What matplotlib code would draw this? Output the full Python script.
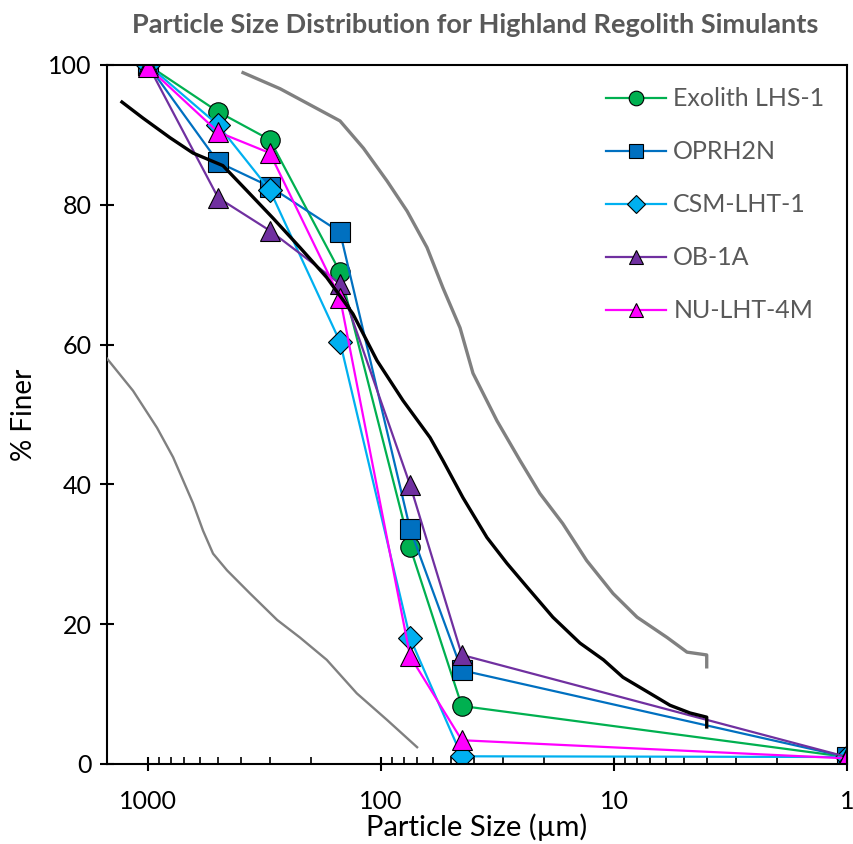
import matplotlib
matplotlib.use('Agg')
import matplotlib.pyplot as plt
from matplotlib.ticker import LogLocator, NullFormatter, FixedLocator

plt.rcParams['font.family'] = ['Lato', 'DejaVu Sans']

# sieve sizes (µm) and % finer for each simulant
sizes = [1000, 500, 300, 150, 75, 45, 1]
exolith = [100, 93.3, 89.3, 70.4, 31.0, 8.3, 1.0]
oprh2n = [100, 86.1, 82.6, 76.1, 33.6, 13.4, 1.0]
csm = [100, 91.4, 82.1, 60.4, 18.0, 1.1, 1.0]
ob1a = [100, 81.0, 76.3, 68.7, 39.9, 15.6, 1.0]
nu = [99.7, 90.4, 87.4, 66.7, 15.4, 3.4, 0.8]

names = ['Exolith LHS-1', 'OPRH2N', 'CSM-LHT-1', 'OB-1A', 'NU-LHT-4M']
colors = ['#00B050', '#0070C0', '#00B0F0', '#7030A0', '#FF00FF']
markers = ['o', 's', 'D', '^', '^']

# lunar soil envelope (upper / lower) and average curve
upper_x = [391, 271, 150, 119, 94.2, 77.3, 63.5, 54.2, 45.8, 40.3, 31.8, 25.3,
           20.8, 16.6, 13.1, 10.1, 7.96, 5.92, 4.86, 4.0, 4.0]
upper_y = [98.9, 96.6, 92.0, 88.1, 83.4, 79.1, 73.9, 68.1, 62.4, 55.9, 49.1, 43.4,
           38.7, 34.4, 29.1, 24.4, 21.0, 18.1, 16.0, 15.6, 13.9]
lower_x = [1500, 1160, 915, 781, 641, 581, 526, 458, 365, 279, 223, 171, 127, 94.2, 70.0]
lower_y = [58.0, 53.4, 48.1, 43.9, 37.3, 33.4, 30.1, 27.7, 24.4, 20.6, 18.1, 14.9,
           10.1, 6.3, 2.4]
avg_x = [1294, 1051, 805, 641, 477, 376, 291, 223, 171, 132, 104, 80.5, 61.6, 54.2,
         44.5, 35.1, 28.8, 23.6, 18.3, 14.0, 11.1, 9.15, 7.0, 5.75, 4.72, 4.0, 4.0]
avg_y = [94.7, 92.4, 89.6, 87.4, 85.6, 82.0, 78.1, 73.9, 69.6, 64.4, 57.7, 52.0, 46.7,
         43.4, 38.1, 32.4, 28.7, 25.3, 21.0, 17.3, 14.9, 12.4, 10.1, 8.4, 7.3, 6.7, 5.3]

fig = plt.figure(figsize=(8.54, 8.44), dpi=100)
ax = fig.add_axes([0.1253, 0.0948, 0.8665, 0.8282])

for vals, name, c, m in zip([exolith, oprh2n, csm, ob1a, nu], names, colors, markers):
    ax.plot(sizes, vals, color=c, lw=1.6, marker=m, markersize=14 if m != 'D' else 12,
            markerfacecolor=c, markeredgecolor='black', markeredgewidth=0.8, label=name)

ax.plot(upper_x, upper_y, color='#808080', lw=2.4, zorder=3)
ax.plot(lower_x, lower_y, color='#808080', lw=1.7, zorder=3)
ax.plot(avg_x, avg_y, color='black', lw=2.4, zorder=3)

ax.set_xscale('log')
ax.set_xlim(1500, 1)
ax.set_ylim(0, 100)
ax.xaxis.set_major_locator(FixedLocator([1000, 100, 10, 1]))
ax.set_xticklabels(['1000', '100', '10', '1'])
ax.xaxis.set_minor_locator(LogLocator(base=10, subs=range(2, 10), numticks=20))
ax.xaxis.set_minor_formatter(NullFormatter())
ax.set_yticks([0, 20, 40, 60, 80, 100])

for s in ax.spines.values():
    s.set_linewidth(1.5)
ax.tick_params(which='major', direction='inout', length=10, width=1.5,
               labelsize=18, top=False, right=False)
ax.tick_params(axis='x', which='minor', direction='in', length=5, width=1.2, top=False)
ax.tick_params(axis='x', which='major', pad=14)
ax.tick_params(axis='y', which='major', pad=6)

ax.set_xlabel('Particle Size (µm)', fontsize=21, labelpad=0)
ax.set_ylabel('% Finer', fontsize=20, labelpad=8)
fig.suptitle('Particle Size Distribution for Highland Regolith Simulants',
             fontsize=19.5, fontweight='bold', color='#595959', x=0.557, y=0.985)

leg = ax.legend(loc='upper right', frameon=False, fontsize=18, labelspacing=1.2,
                markerscale=0.75, handlelength=2.4, handletextpad=0.3,
                bbox_to_anchor=(1.0, 1.0))
for t in leg.get_texts():
    t.set_color('#595959')

fig.savefig('out.png', dpi=100)
